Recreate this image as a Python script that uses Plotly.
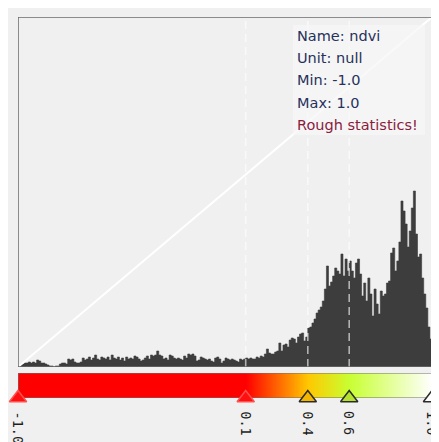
import numpy as np
import plotly.graph_objects as go

# ---------------- data ----------------
BIN_START = -1.0
BIN_WIDTH = 0.01
counts = [
    1, 2, 3, 4, 4, 5, 4, 5, 4, 7, 6, 4, 4, 3, 2, 1, 1, 0, 1, 1,
    3, 4, 4, 3, 8, 7, 8, 5, 4, 4, 5, 9, 7, 8, 10, 7, 9, 12, 8, 7,
    10, 9, 8, 10, 7, 12, 9, 8, 10, 7, 9, 6, 10, 8, 9, 8, 11, 10, 8, 6,
    7, 9, 11, 8, 12, 11, 12, 16, 12, 11, 8, 9, 7, 12, 11, 9, 8, 9, 8, 7,
    11, 9, 13, 12, 13, 11, 6, 7, 10, 9, 8, 7, 8, 6, 5, 9, 10, 8, 4, 6,
    9, 8, 7, 8, 7, 6, 5, 8, 7, 8, 9, 8, 9, 8, 8, 10, 9, 11, 10, 13,
    18, 14, 13, 13, 15, 16, 24, 16, 22, 23, 20, 27, 29, 28, 24, 30, 33, 34, 26, 30,
    39, 40, 44, 48, 54, 57, 60, 66, 78, 101, 81, 85, 91, 99, 96, 93, 113, 91, 108, 96,
    106, 96, 89, 104, 108, 93, 71, 84, 66, 89, 73, 51, 78, 63, 53, 76, 71, 73, 84, 86,
    114, 119, 96, 106, 125, 166, 156, 143, 120, 136, 159, 176, 133, 110, 113, 89, 73, 59, 40, 28,
]
Y_MAX = 350
X_MIN, X_MAX = -1.0, 1.0

stop_values = [-1.0, 0.1, 0.4, 0.6, 1.0]
stop_labels = ["-1.0", "0.1", "0.4", "0.6", "1.0"]
stop_colors = ["#ff0000", "#ff0000", "#ffc800", "#c8ff32", "#ffffff"]
marker_fill = ["#ff1010", "#ff1010", "#f2b600", "#b4e22e", "#ffffff"]
marker_edge = ["#ff5050", "#ff5050", "#2b2b2b", "#2b2b2b", "#2b2b2b"]

stat_lines = ["Name: ndvi", "Unit: null", "Min: -1.0", "Max: 1.0", "Rough statistics!"]
stat_colors = ["#27315c", "#27315c", "#27315c", "#27315c", "#8a1c40"]

# ---------------- figure ----------------
OFF = 8                      # page body margin
W, H = 439 - OFF, 442 - OFF
ML, MR, MT, MB = 18 - OFF, 7, 17 - OFF, 44
PAGE_BOTTOM = 398            # page row of the ramp bottom
plot_h = H - MT - MB
PX_PER_UNIT = (W - ML - MR) / (X_MAX - X_MIN)


def py(px):
    """page pixel row -> paper y"""
    return (PAGE_BOTTOM - px) / plot_h


def dx(px):
    """page pixel column -> data x"""
    return X_MIN + (px - 18) / PX_PER_UNIT


hist_dom = [py(367), 1.0]
bar_dom = [0.0, py(373)]

edges = BIN_START + BIN_WIDTH * np.arange(len(counts) + 1)
step_y = list(counts) + [counts[-1]]

fig = go.Figure()

fig.add_trace(go.Scatter(
    x=edges, y=step_y, mode="lines", line=dict(shape="hv", color="#3d3d3d", width=0.6),
    fill="tozeroy", fillcolor="#3d3d3d",
    xaxis="x", yaxis="y", hoverinfo="skip", showlegend=False,
))

# diagonal white line across the axis range
fig.add_trace(go.Scatter(
    x=[X_MIN, X_MAX], y=[0, Y_MAX], mode="lines",
    line=dict(color="#ffffff", width=2),
    xaxis="x", yaxis="y", hoverinfo="skip", showlegend=False,
))

# colour ramp
grad_x = np.linspace(X_MIN, X_MAX, 415)
cscale = [[(v - X_MIN) / (X_MAX - X_MIN), c] for v, c in zip(stop_values, stop_colors)]
fig.add_trace(go.Heatmap(
    x=grad_x, y=[0.5], z=[grad_x], colorscale=cscale, zmin=X_MIN, zmax=X_MAX,
    showscale=False, xaxis="x2", yaxis="y2", hoverinfo="skip",
))

# ramp frame
fig.add_trace(go.Scatter(
    x=[X_MIN, X_MAX, X_MAX, X_MIN, X_MIN], y=[0, 0, 1, 1, 0], mode="lines",
    line=dict(color="#6e6e6e", width=1.2), xaxis="x2", yaxis="y2",
    hoverinfo="skip", showlegend=False, cliponaxis=False,
))

# stop markers
fig.add_trace(go.Scatter(
    x=stop_values, y=[0] * len(stop_values), mode="markers",
    marker=dict(symbol="triangle-up", size=15, color=marker_fill,
                line=dict(color=marker_edge, width=1.5)),
    xaxis="x2", yaxis="y2", hoverinfo="skip", showlegend=False, cliponaxis=False,
))

shapes = []
for v in stop_values[1:4]:
    shapes.append(dict(type="line", xref="x", yref="y", x0=v, x1=v, y0=0, y1=Y_MAX,
                       line=dict(color="rgba(255,255,255,0.6)", width=1.6, dash="8px,5px"),
                       layer="above"))
shapes.append(dict(type="rect", xref="x", yref="y", x0=X_MIN, x1=X_MAX, y0=0, y1=Y_MAX,
                   line=dict(color="#6a6a6a", width=1.5), layer="above"))
shapes.append(dict(type="rect", xref="x", yref="y", x0=dx(293), x1=dx(425),
                   y0=367 - 135, y1=367 - 25,
                   fillcolor="rgba(246,246,246,0.72)", line=dict(width=0), layer="above"))

annotations = []
for k, (t, c) in enumerate(zip(stat_lines, stat_colors)):
    annotations.append(dict(
        x=dx(295), y=367 - (36 + 22.2 * k), xref="x", yref="y",
        text=t, showarrow=False, xanchor="left", yanchor="middle",
        font=dict(family="DejaVu Sans", size=14.5, color=c),
    ))
for v, lab in zip(stop_values, stop_labels):
    annotations.append(dict(
        x=v, y=py(409), xref="x2", yref="paper", text=lab, showarrow=False,
        textangle=90, xanchor="center", yanchor="top",
        font=dict(family="DejaVu Sans Mono", size=13.5, color="#1e1e1e"),
    ))

axis_off = dict(visible=False, showgrid=False, zeroline=False, fixedrange=True)
fig.update_layout(
    width=W, height=H,
    margin=dict(l=ML, r=MR, t=MT, b=MB, pad=0),
    paper_bgcolor="#f0f0f0", plot_bgcolor="#f0f0f0",
    showlegend=False,
    xaxis=dict(domain=[0, 1], range=[X_MIN, X_MAX], anchor="y", **axis_off),
    yaxis=dict(domain=hist_dom, range=[0, Y_MAX], anchor="x", **axis_off),
    xaxis2=dict(domain=[0, 1], range=[X_MIN, X_MAX], anchor="y2", **axis_off),
    yaxis2=dict(domain=bar_dom, range=[0, 1], anchor="x2", **axis_off),
    shapes=shapes, annotations=annotations,
)

fig.write_html("out.html")
